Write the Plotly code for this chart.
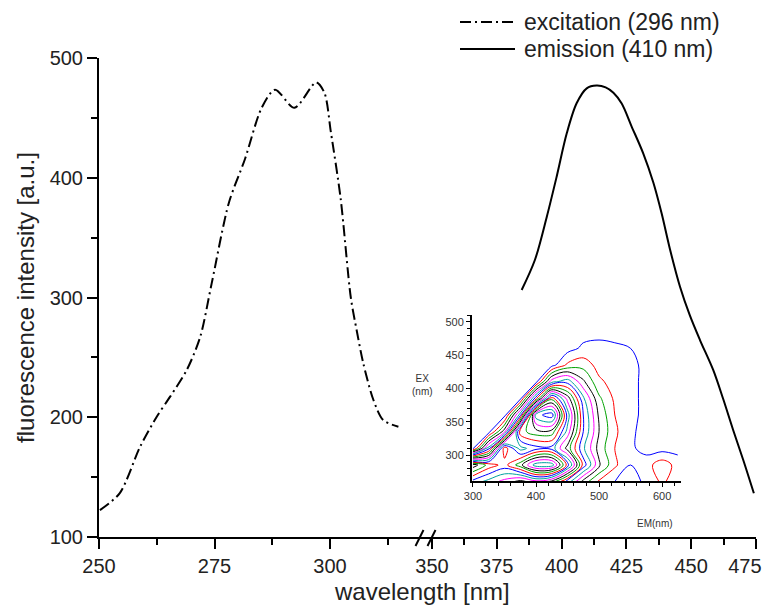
import plotly.graph_objects as go

# ---------------- data ----------------
ex_wl = [250.2, 254.5, 258.9, 262.5, 265.4, 269.0, 271.9, 274.4, 278.1, 281.6, 285.2,
         288.1, 292.3, 297.0, 298.8, 300.2, 302.3, 304.5, 305.8, 307.2, 309.4, 311.5, 314.8]
ex_int = [122.5, 136.7, 175.4, 200.5, 217.2, 239.5, 267.0, 312.0, 379.0, 415.7, 458.4,
          473.6, 458.4, 479.7, 470.9, 437.8, 382.7, 300.0, 272.0, 245.1, 214.4, 197.7, 192.1]

em_wl = [384.6, 389.7, 394.3, 398.1, 402.0, 405.8, 409.7, 413.5, 417.0, 420.0, 423.2, 427.0,
         431.5, 435.4, 438.6, 441.8, 445.7, 449.5, 453.4, 458.5, 462.4, 466.2, 470.1, 474.2]
em_int = [306.3, 331.3, 367.5, 400.9, 437.1, 462.2, 474.7, 477.0, 475.5, 471.0, 462.0, 443.0,
          420.4, 396.0, 370.3, 340.5, 309.0, 285.0, 264.5, 239.5, 215.0, 189.4, 164.3, 136.5]

left_ticks = [250, 275, 300]
right_ticks = [350, 375, 400, 425, 450, 475]
right_labels = ["350", "375", "400", "425", "450", "475\u00a0\u00a0\u00a0\u00a0"]
y_ticks = [100, 200, 300, 400, 500]

# inset excitation-emission matrix (estimated)
eem_em = [300, 325, 350, 375, 400, 425, 450, 475, 500, 525, 550, 575, 600, 625]
eem_ex = [260, 285, 310, 335, 360, 385, 410, 435, 460, 485, 510]
eem_z = [
    [60, 55, 50, 45, 50, 45, 30, 15, 6, 2, 0, 3, 8, 4],
    [80, 70, 65, 75, 90, 90, 65, 35, 18, 8, 2, 5, 10, 5],
    [0, 30, 70, 55, 60, 60, 45, 28, 15, 7, 3, 0, 0, 0],
    [0, 0, 20, 70, 75, 75, 55, 32, 17, 8, 3, 0, 0, 0],
    [0, 0, 0, 30, 90, 95, 60, 32, 16, 7, 3, 1, 0, 0],
    [0, 0, 0, 0, 35, 70, 50, 28, 13, 6, 3, 1, 0, 0],
    [0, 0, 0, 0, 0, 25, 30, 18, 8, 5, 3, 1, 0, 0],
    [0, 0, 0, 0, 0, 0, 8, 10, 5, 4, 3, 1, 0, 0],
    [0, 0, 0, 0, 0, 0, 0, 3, 4, 3, 2, 0, 0, 0],
    [0, 0, 0, 0, 0, 0, 0, 0, 0, 0, 0, 0, 0, 0],
    [0, 0, 0, 0, 0, 0, 0, 0, 0, 0, 0, 0, 0, 0],
]
eem_levels = [2, 7, 12, 17, 22, 27, 32, 37, 42, 47, 52, 57, 62, 67, 72, 77, 82, 87, 92]
eem_colors = ["blue", "red", "#00a000", "black", "magenta", "#00a0a0"]

FONT = "Liberation Sans, Arial, sans-serif"
DASHDOT = "11px,4px,2px,4px"

# page body has an 8px margin: plot-area pixel targets are given in screenshot pixels
OFF = 8
PL, PR, PT, PB = 99, 756, 58, 537
PW, PH = PR - PL, PB - PT


def px(x):
    return (x - PL) / PW


def py(y):
    return (PB - y) / PH


fig = go.Figure()

fig.add_trace(go.Scatter(x=ex_wl, y=ex_int, mode="lines", name="excitation (296 nm)",
                         line=dict(color="black", width=2, dash=DASHDOT, shape="spline", smoothing=0.8),
                         xaxis="x", yaxis="y", showlegend=False))
fig.add_trace(go.Scatter(x=em_wl, y=em_int, mode="lines", name="emission (410 nm)",
                         line=dict(color="black", width=2, shape="spline", smoothing=0.9),
                         xaxis="x2", yaxis="y", showlegend=False))

for i, lev in enumerate(eem_levels):
    fig.add_trace(go.Contour(x=eem_em, y=eem_ex, z=eem_z, autocontour=False,
                             contours=dict(start=lev, end=lev, size=1, coloring="none"),
                             line=dict(color=eem_colors[i % len(eem_colors)], width=1, smoothing=1.0),
                             showscale=False, hoverinfo="skip", xaxis="x3", yaxis="y3"))

split = px(425)

axis_common = dict(showline=True, linecolor="black", linewidth=2, ticks="outside",
                   ticklen=10, tickwidth=2, tickcolor="black", showgrid=False, zeroline=False,
                   tickfont=dict(family=FONT, size=20, color="#222"))
minor_common = dict(ticks="outside", ticklen=6, tickwidth=2, tickcolor="black")

fig.update_layout(
    width=771 - OFF, height=607 - OFF,
    margin=dict(l=PL - OFF, r=771 - OFF - (PR - OFF), t=PT - OFF, b=607 - OFF - (PB - OFF)),
    paper_bgcolor="white", plot_bgcolor="white",
    showlegend=False,
    font=dict(family=FONT, color="#222"),
    xaxis=dict(domain=[0, split], range=[250, 320.56], tickvals=left_ticks,
               minor=dict(dtick=12.5, tick0=250, **minor_common), automargin=False,
               anchor="y", **axis_common),
    xaxis2=dict(domain=[split, 1], range=[347.3, 475.02], tickvals=right_ticks,
                ticktext=right_labels,
                minor=dict(dtick=12.5, tick0=350, **minor_common),
                ticklabeloverflow="allow", automargin=False,
                anchor="y", **axis_common),
    yaxis=dict(domain=[0, 1], range=[100, 500.02], tickvals=y_ticks,
               minor=dict(dtick=50, tick0=100, **minor_common),
               anchor="x",
               title=dict(text="fluorescence intensity [a.u.]", standoff=8,
                          font=dict(family=FONT, size=24, color="#222")),
               **axis_common),
    xaxis3=dict(domain=[px(471.7), px(681)], range=[298, 630], anchor="y3",
                tickvals=[300, 400, 500, 600], showline=True, linecolor="black", linewidth=1.5,
                ticks="outside", ticklen=4, tickcolor="black", showgrid=False, zeroline=False,
                minor=dict(dtick=20, tick0=300, ticks="outside", ticklen=3, tickcolor="black"),
                tickfont=dict(family=FONT, size=11, color="#333")),
    yaxis3=dict(domain=[py(481), py(315)], range=[261, 510], anchor="x3",
                tickvals=[300, 350, 400, 450, 500], showline=True, linecolor="black", linewidth=1.5,
                ticks="outside", ticklen=4, tickcolor="black", showgrid=False, zeroline=False,
                minor=dict(dtick=10, tick0=300, ticks="outside", ticklen=3, tickcolor="black"),
                tickfont=dict(family=FONT, size=11, color="#333")),
)

# axis break marks
for x0 in [415.5, 427.5]:
    fig.add_shape(type="line", xref="paper", yref="paper",
                  x0=px(x0), y0=py(546), x1=px(x0 + 8), y1=py(530),
                  line=dict(color="black", width=2))

# manual legend
leg_rows = [("excitation (296 nm)", 22, DASHDOT), ("emission (410 nm)", 49, "solid")]
for text, ypx, dash in leg_rows:
    fig.add_shape(type="line", xref="paper", yref="paper",
                  x0=px(460), x1=px(515), y0=py(ypx), y1=py(ypx),
                  line=dict(color="black", width=2, dash=dash))
    fig.add_annotation(text=text, xref="paper", yref="paper", x=px(522), y=py(ypx),
                       xanchor="left", yanchor="middle", showarrow=False,
                       font=dict(family=FONT, size=23, color="#222"))

# x title
fig.add_annotation(text="wavelength [nm]", xref="paper", yref="paper",
                   x=px(422), y=py(591), xanchor="center", yanchor="middle",
                   showarrow=False, font=dict(family=FONT, size=24, color="#222"))

# inset axis labels
fig.add_annotation(text="EX<br>(nm)", xref="paper", yref="paper",
                   x=px(422), y=py(385), xanchor="center", yanchor="middle",
                   showarrow=False, font=dict(family=FONT, size=10, color="#333"))
fig.add_annotation(text="EM(nm)", xref="paper", yref="paper",
                   x=px(655), y=py(523), xanchor="center", yanchor="middle",
                   showarrow=False, font=dict(family=FONT, size=10, color="#333"))

fig.write_html("out.html")
